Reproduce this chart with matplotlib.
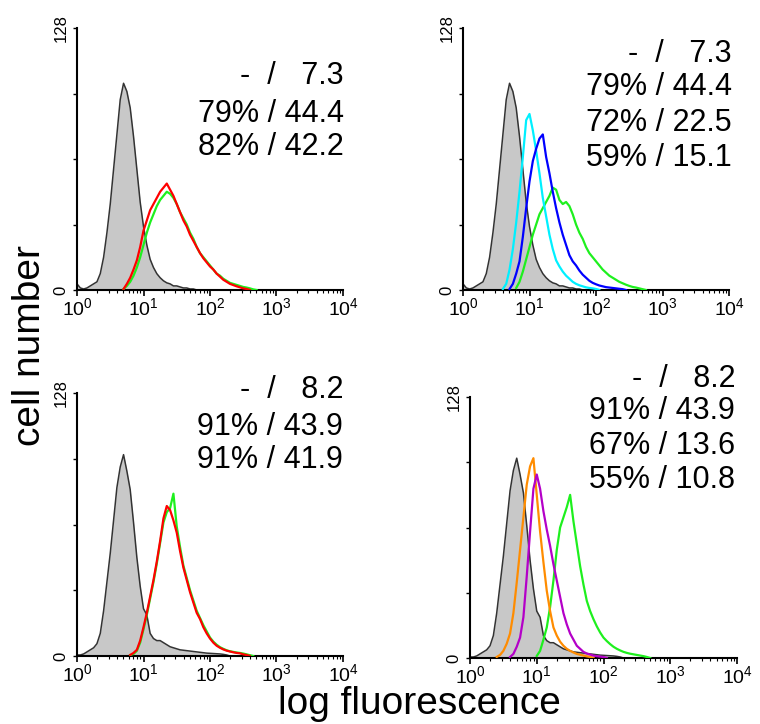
#---------------------------------Start--------------------------------

import numpy as np
import matplotlib
matplotlib.use("Agg")
import matplotlib.pyplot as plt

plt.rcParams['font.family'] = ['Liberation Sans', 'DejaVu Sans']
plt.rcParams['mathtext.fontset'] = 'custom'
plt.rcParams['mathtext.rm'] = 'Liberation Sans'

#-------------------------------Data-----------------------------------
# histograms: counts per bin of 0.05 decades,
# each list starts at the log10 value given in *_start

step = 0.05

gray_top_start = 0.0
gray_top = [3, 1, 0.5, 1, 2, 3, 4, 8, 16, 28, 42, 59, 76, 93, 101, 97, 89, 75, 59, 43,
            31, 22, 15, 11, 8, 6, 4.5, 3.5, 3, 2, 2, 1.5, 1, 1, 0.5, 0.5, 0]

gray_bot_start = 0.0
gray_bot = [0.5, 0.5, 1, 2, 3, 4, 6, 11, 22, 36, 50, 66, 82, 92, 98, 90, 81, 65, 48, 34,
            23, 20, 11, 8.5, 7.5, 7.5, 6.5, 5.5, 4.5, 4, 3.5, 3, 2.8, 2.6, 2.4, 2.2, 2,
            1.8, 1.6, 1.4, 1.3, 1.2, 1.1, 1, 0.8, 0.5, 0]

# panel 1
green1_start = 0.7
green1 = [0.5, 2, 4, 7, 11, 16, 22, 28, 33, 37, 41, 44, 46, 48, 47, 45, 42, 38, 35, 32,
          28, 25, 21, 18, 16, 14, 12, 10, 8, 7, 5.5, 4.5, 3.5, 3, 2.5, 2, 1.5, 1.2, 0.8,
          0.3, 0]
red1_start = 0.7
red1 = [0.5, 3, 6, 10, 14.5, 21, 29, 34, 39, 42, 45, 48, 50, 52, 49, 46, 42, 38, 34, 31,
        27, 24, 21, 18, 15.5, 13.5, 11.5, 10, 8, 6.5, 5, 4, 3, 2.4, 1.8, 1.3, 0.8, 0.5, 0]

# panel 2
green2_start = 0.8
green2 = [1, 4, 9, 15, 21, 27, 32, 37, 40, 43, 46, 50, 49, 44, 42, 43, 41, 37, 32, 28,
          25, 21, 18, 16, 14, 12, 10, 8.5, 7, 6, 5, 4, 3.3, 2.6, 2, 1.5, 1.2, 0.8, 0.4, 0]
cyan2_start = 0.6
cyan2 = [0.5, 3, 10, 20, 33, 48, 65, 83, 86, 78, 68, 57, 45, 36, 27, 20, 14.5, 11.5, 9,
         7, 5.5, 4, 3, 2.3, 1.8, 1.3, 1, 0.8, 0.5, 0]
blue2_start = 0.7
blue2 = [0.5, 3, 8, 14, 26, 40, 53, 63, 69, 74, 76, 65, 57, 48, 40, 33, 27, 22, 17, 14,
         12, 9.5, 7.5, 6, 4.5, 3.5, 2.8, 2.2, 1.8, 1.4, 1.2, 1, 0.8, 0.6, 0.4, 0]

# panel 3
green3_start = 0.8
green3 = [0.5, 1, 2.5, 6.5, 13, 20, 28, 36, 45, 55, 65, 70, 72, 79, 63, 53, 44, 38, 32,
          27, 22, 18.5, 15, 12, 9, 7, 5.5, 4.3, 3.5, 2.8, 2.3, 2, 1.7, 1.5, 1.2, 0.8,
          0.4, 0]
red3_start = 0.8
red3 = [0.5, 1.5, 3, 7.5, 14, 21, 29, 37, 46, 56, 67, 73, 71, 66, 60, 51, 43, 37, 31, 26,
        21, 18, 14, 11, 8.5, 6.5, 5, 4, 3.2, 2.6, 2.2, 1.8, 1.5, 1.3, 0.8, 0.5, 0]

# panel 4
green4_start = 1.0
green4 = [1, 3.5, 9, 15, 25, 38, 53, 64, 69, 74, 80, 67, 56, 45, 36, 28, 23, 19, 15.5,
          12.5, 10, 8.3, 6.8, 5.5, 4.5, 3.7, 3, 2.5, 2.1, 1.8, 1.5, 1.2, 0.9, 0.5, 0]
orange4_start = 0.4
orange4 = [0.5, 1.5, 3.5, 7, 12, 22, 37, 53, 69, 85, 94, 98, 80, 62, 47, 33, 23, 15, 11,
           8, 6, 4.5, 3.5, 2.7, 2, 1.6, 1.2, 0.8, 0.5, 0]
magenta4_start = 0.6
magenta4 = [0.5, 2, 5.5, 10, 20, 40, 62, 83, 90, 83, 72, 63, 55, 46, 38, 30, 22, 16.5, 12,
            9, 6, 4.5, 3, 2.2, 1.7, 1.2, 0.9, 0.7, 0.5, 0]

# text: percent positive / mean fluorescence
labels_top_left = ['-  /   7.3', '79% / 44.4', '82% / 42.2']
labels_top_right = ['-  /   7.3', '79% / 44.4', '72% / 22.5', '59% / 15.1']
labels_bot_left = ['-  /   8.2', '91% / 43.9', '91% / 41.9']
labels_bot_right = ['-  /   8.2', '91% / 43.9', '67% / 13.6', '55% / 10.8']

#-------------------------------Colours--------------------------------

c_green = '#1ef01e'
c_red = '#ff0000'
c_cyan = '#00f0ff'
c_blue = '#0000ff'
c_orange = '#ff8c00'
c_magenta = '#b400c8'

W, H = 760, 724

#---------------------------Helper functions---------------------------

def xs(start, counts):
    return 10 ** (start + step * np.arange(len(counts)))

def draw_control(ax, start, counts):
    x = xs(start, counts)
    ax.fill_between(x, 0, counts, color='#c8c8c8', lw=0, zorder=1)
    ax.plot(x, counts, color='#333333', lw=1.1, zorder=2)

def draw_line(ax, start, counts, color):
    ax.plot(xs(start, counts), counts, color=color, lw=1.6, zorder=3)

def setup(ax):
    ax.set_xscale('log')
    ax.set_xlim(1, 1e4)
    ax.set_ylim(0, 128)
    for s in ['top', 'right']:
        ax.spines[s].set_visible(False)
    for s in ['left', 'bottom']:
        ax.spines[s].set_linewidth(1.5)
    ax.set_xticks([1, 10, 100, 1000, 10000])
    ax.set_xticklabels([r'$\mathregular{10^{%d}}$' % i for i in range(5)], fontsize=14)
    ax.set_yticks([0, 32, 64, 96, 128])
    ax.set_yticklabels(['0', '', '', '', '128'], rotation=90, va='center', fontsize=12)
    ax.tick_params(axis='x', which='major', length=4, width=1.2, pad=1)
    ax.tick_params(axis='x', which='minor', length=2.5, width=0.8)
    ax.tick_params(axis='y', length=3, width=1, pad=3)

def add_ax(left, top, right, bottom):
    ax = fig.add_axes([left / W, 1 - bottom / H, (right - left) / W, (bottom - top) / H])
    setup(ax)
    return ax

def put_text(lines, x_right, baselines):
    for s, yb in zip(lines, baselines):
        fig.text(x_right / W, 1 - yb / H, s, ha='right', va='baseline', fontsize=22)

#-----------------------------Figure-----------------------------------

fig = plt.figure(figsize=(W / 100, H / 100), dpi=100)

ax1 = add_ax(77, 28, 343, 290)
draw_control(ax1, gray_top_start, gray_top)
draw_line(ax1, green1_start, green1, c_green)
draw_line(ax1, red1_start, red1, c_red)
put_text(labels_top_left, 344, [84, 122, 155])

ax2 = add_ax(463, 28, 729, 290)
draw_control(ax2, gray_top_start, gray_top)
draw_line(ax2, green2_start, green2, c_green)
draw_line(ax2, cyan2_start, cyan2, c_cyan)
draw_line(ax2, blue2_start, blue2, c_blue)
put_text(labels_top_right, 732, [62, 95, 131, 166])

ax3 = add_ax(77, 393, 343, 656)
draw_control(ax3, gray_bot_start, gray_bot)
draw_line(ax3, green3_start, green3, c_green)
draw_line(ax3, red3_start, red3, c_red)
put_text(labels_bot_left, 343, [398, 435, 468])

ax4 = add_ax(470, 397, 737, 658)
draw_control(ax4, gray_bot_start, gray_bot)
draw_line(ax4, green4_start, green4, c_green)
draw_line(ax4, orange4_start, orange4, c_orange)
draw_line(ax4, magenta4_start, magenta4, c_magenta)
put_text(labels_bot_right, 735, [387, 419, 454, 488])

fig.text(30 / W, 1 - 345 / H, 'cell number', rotation=90, ha='center', va='center',
         fontsize=28)
fig.text(419 / W, 1 - 714 / H, 'log fluorescence', ha='center', va='baseline',
         fontsize=28)

fig.savefig('out.png', dpi=100)
#------------------------------End---------------------------------------
